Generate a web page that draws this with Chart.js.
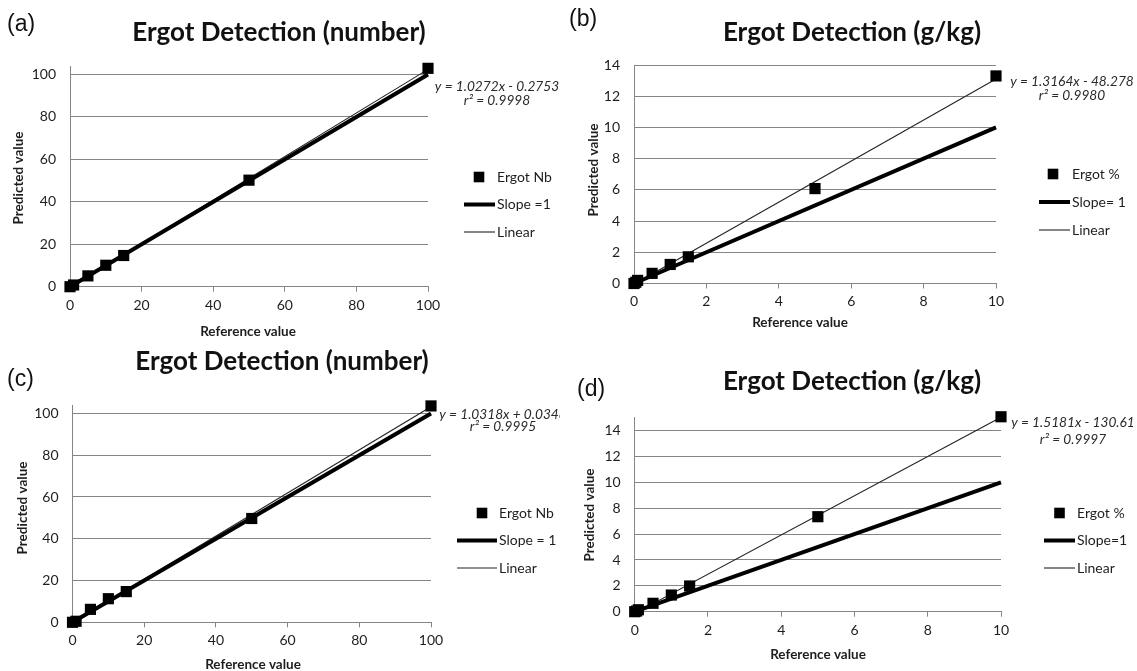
<!DOCTYPE html>
<html><head><meta charset="utf-8">
<script src="https://cdn.jsdelivr.net/npm/chart.js@4.4.0/dist/chart.umd.min.js"></script>
<style>
html,body{margin:0;padding:0;background:#fff;width:1137px;height:671px;overflow:hidden}
canvas{position:absolute}
</style></head><body>
<canvas id="ca" style="left:0px;top:0px" width="560" height="340"></canvas>
<canvas id="cb" style="left:560px;top:0px" width="577" height="340"></canvas>
<canvas id="cc" style="left:0px;top:340px" width="560" height="331"></canvas>
<canvas id="cd" style="left:560px;top:340px" width="577" height="331"></canvas>
<script>
// ---------- data ----------
const titleNumber = 'Ergot Detection (number)';
const titleGkg = 'Ergot Detection (g/kg)';
const xAxisTitle = 'Reference value';
const yAxisTitle = 'Predicted value';

// (a)
const refA = [0, 1, 5, 10, 15, 50, 100];
const predA = [0, 0.8, 5.1, 10.1, 14.7, 50.2, 102.9];
const slopeRefA = [0, 100];
const slopePredA = [0, 100];
const linRefA = [0, 100];
const linPredA = [-0.28, 102.4];
const namesA = ['Ergot Nb', 'Slope =1', 'Linear'];
const eqA = ['y = 1.0272x - 0.2753', 'r\u00B2 = 0.9998'];
const xTicksA = [0, 20, 40, 60, 80, 100];
const yTicksA = [0, 20, 40, 60, 80, 100];

// (b)
const refB = [0, 0.05, 0.1, 0.5, 1, 1.5, 5, 10];
const predB = [0, 0.08, 0.2, 0.65, 1.22, 1.71, 6.08, 13.3];
const slopeRefB = [0, 10];
const slopePredB = [0, 10];
const linRefB = [0, 10];
const linPredB = [-0.05, 13.1];
const namesB = ['Ergot %', 'Slope= 1', 'Linear'];
const eqB = ['y = 1.3164x - 48.278', 'r\u00B2 = 0.9980'];
const xTicksB = [0, 2, 4, 6, 8, 10];
const yTicksB = [0, 2, 4, 6, 8, 10, 12, 14];

// (c)
const refC = [0, 1, 5, 10, 15, 50, 100];
const predC = [0, 0.5, 6.2, 11.3, 14.7, 49.7, 103.6];
const slopeRefC = [0, 100];
const slopePredC = [0, 100];
const linRefC = [0, 100];
const linPredC = [0.03, 103.2];
const namesC = ['Ergot Nb', 'Slope = 1', 'Linear'];
const eqC = ['y = 1.0318x + 0.0348', 'r\u00B2 = 0.9995'];
const xTicksC = [0, 20, 40, 60, 80, 100];
const yTicksC = [0, 20, 40, 60, 80, 100];

// (d)
const refD = [0, 0.05, 0.1, 0.5, 1, 1.5, 5, 10];
const predD = [0, 0.05, 0.15, 0.65, 1.29, 1.99, 7.35, 15.08];
const slopeRefD = [0, 10];
const slopePredD = [0, 10];
const linRefD = [0, 10];
const linPredD = [-0.13, 15.05];
const namesD = ['Ergot %', 'Slope=1', 'Linear'];
const eqD = ['y = 1.5181x - 130.61', 'r\u00B2 = 0.9997'];
const xTicksD = [0, 2, 4, 6, 8, 10];
const yTicksD = [0, 2, 4, 6, 8, 10, 12, 14];

// ---------- styling / layout ----------
const FONT = 'Lato, "Open Sans", sans-serif';
const TXT = '#1e1e1e';
const GRID = '#858585';

const panelText = {
  id: 'panelText',
  afterDraw(chart, args, o) {
    const ctx = chart.ctx;
    ctx.save();
    const lg = o.legend;
    chart.data.datasets.forEach((ds, i) => {
      const yy = lg.y + i * lg.gap;
      if (ds.showLine === false) {
        const cx = lg.mx;
        ctx.fillStyle = '#000';
        ctx.fillRect(cx - 5.3, yy - 5.3, 10.6, 10.6);
      } else {
        ctx.strokeStyle = ds.borderColor;
        ctx.lineWidth = ds.borderWidth;
        ctx.beginPath();
        ctx.moveTo(lg.x, yy);
        ctx.lineTo(lg.x + lg.len, yy);
        ctx.stroke();
      }
      ctx.fillStyle = TXT;
      ctx.font = '14px ' + FONT;
      ctx.textAlign = 'left';
      ctx.textBaseline = 'middle';
      ctx.fillText(ds.label, lg.x + lg.len + 2, yy);
    });
    (o.texts || []).forEach(t => {
      ctx.font = t.font;
      ctx.fillStyle = t.color || TXT;
      ctx.textAlign = t.align || 'center';
      ctx.textBaseline = 'middle';
      if (t.rot) {
        ctx.save();
        ctx.translate(t.x, t.y);
        ctx.rotate(t.rot);
        ctx.fillText(t.text, 0, 0);
        ctx.restore();
      } else {
        ctx.fillText(t.text, t.x, t.y);
      }
    });
    ctx.restore();
  }
};

function pts(xs, ys) { return xs.map((x, i) => ({x: x, y: ys[i]})); }

function build(id, d, g) {
  const texts = [
    {text: d.label, x: g.lab[0], y: g.lab[1], align: 'left', font: '23px "Liberation Sans", Arial, sans-serif', color: '#111'},
    {text: d.title, x: g.title[0], y: g.title[1], font: 'bold 26px ' + FONT, color: '#111'},
    {text: d.eq[0], x: g.eq[0], y: g.eq[1], font: 'italic 13.7px ' + FONT, color: '#2a2a2a'},
    {text: d.eq[1], x: g.eq[0], y: g.eq[2], font: 'italic 13.7px ' + FONT, color: '#2a2a2a'},
    {text: xAxisTitle, x: g.xt[0], y: g.xt[1], font: 'bold 13.5px ' + FONT},
    {text: yAxisTitle, x: g.yt[0], y: g.yt[1], font: 'bold 13.5px ' + FONT, rot: -Math.PI / 2}
  ];
  return new Chart(document.getElementById(id), {
    type: 'scatter',
    data: {
      datasets: [
        {label: d.names[0], data: pts(d.ref, d.pred), showLine: false, pointStyle: 'rect',
         pointRadius: 7.9, pointHoverRadius: 7.9, backgroundColor: '#000', borderColor: '#000', borderWidth: 0, clip: false},
        {label: d.names[1], data: pts(d.sRef, d.sPred), showLine: true, borderColor: '#000', borderWidth: 4,
         pointRadius: 0, pointHoverRadius: 0, clip: 3},
        {label: d.names[2], data: pts(d.lRef, d.lPred), showLine: true, borderColor: '#222', borderWidth: 1.1,
         pointRadius: 0, pointHoverRadius: 0, clip: 1}
      ]
    },
    options: {
      responsive: false, animation: false, devicePixelRatio: 1,
      events: [],
      layout: {padding: {left: 0, top: g.T, right: g.W - g.R, bottom: 0}},
      plugins: {legend: {display: false}, tooltip: {enabled: false},
        panelText: {legend: g.leg, texts: texts}},
      scales: {
        x: {type: 'linear', position: 'bottom', min: d.xTicks[0], max: d.xTicks[d.xTicks.length - 1],
          afterBuildTicks: s => { s.ticks = d.xTicks.map(v => ({value: v})); },
          afterFit: s => { s.height = g.H - g.B; },
          ticks: {color: TXT, font: {family: FONT, size: 14}, padding: g.xPad, maxRotation: 0},
          grid: {drawOnChartArea: false, drawTicks: true, tickLength: 5, color: GRID},
          border: {color: GRID, width: 1}},
        y: {type: 'linear', position: 'left', min: 0, max: g.ymax,
          afterBuildTicks: s => { s.ticks = d.yTicks.map(v => ({value: v})); },
          afterFit: s => { s.width = g.L; },
          ticks: {color: TXT, font: {family: FONT, size: 14}, padding: 14},
          grid: {drawTicks: false, color: GRID, lineWidth: 1},
          border: {color: GRID, width: 1}}
      }
    },
    plugins: [panelText]
  });
}

build('ca',
  {label: '(a)', title: titleNumber, eq: eqA, names: namesA, ref: refA, pred: predA, sRef: slopeRefA, sPred: slopePredA,
   lRef: linRefA, lPred: linPredA, xTicks: xTicksA, yTicks: yTicksA},
  {W: 560, H: 340, L: 70, R: 428, T: 66, B: 286.7, ymax: 104, xPad: 5,
   lab: [7, 25], title: [279, 33], eq: [497, 87, 101], xt: [248, 332], yt: [19, 178],
   leg: {x: 464, mx: 479, y: 177, gap: 27.5, len: 31}});

build('cb',
  {label: '(b)', title: titleGkg, eq: eqB, names: namesB, ref: refB, pred: predB, sRef: slopeRefB, sPred: slopePredB,
   lRef: linRefB, lPred: linPredB, xTicks: xTicksB, yTicks: yTicksB},
  {W: 577, H: 340, L: 74, R: 436, T: 65, B: 283.5, ymax: 14, xPad: 5,
   lab: [9, 20], title: [292, 33], eq: [512, 82, 96], xt: [240, 323], yt: [34, 170],
   leg: {x: 479, mx: 493, y: 174, gap: 28, len: 31}});

build('cc',
  {label: '(c)', title: titleNumber, eq: eqC, names: namesC, ref: refC, pred: predC, sRef: slopeRefC, sPred: slopePredC,
   lRef: linRefC, lPred: linPredC, xTicks: xTicksC, yTicks: yTicksC},
  {W: 560, H: 331, L: 72.5, R: 431, T: 65.1, B: 282.3, ymax: 104, xPad: 5,
   lab: [7, 40], title: [282, 22], eq: [503, 75, 87], xt: [253, 325], yt: [23, 168],
   leg: {x: 457, mx: 482, y: 173, gap: 27.5, len: 40}});

build('cd',
  {label: '(d)', title: titleGkg, eq: eqD, names: namesD, ref: refD, pred: predD, sRef: slopeRefD, sPred: slopePredD,
   lRef: linRefD, lPred: linPredD, xTicks: xTicksD, yTicks: yTicksD},
  {W: 577, H: 331, L: 74.7, R: 441, T: 77.8, B: 271.7, ymax: 15, xPad: 5,
   lab: [17, 50], title: [292, 42], eq: [513, 83, 100], xt: [258, 315], yt: [30, 175],
   leg: {x: 484, mx: 499.5, y: 173, gap: 27.5, len: 31}});
</script>
</body></html>
